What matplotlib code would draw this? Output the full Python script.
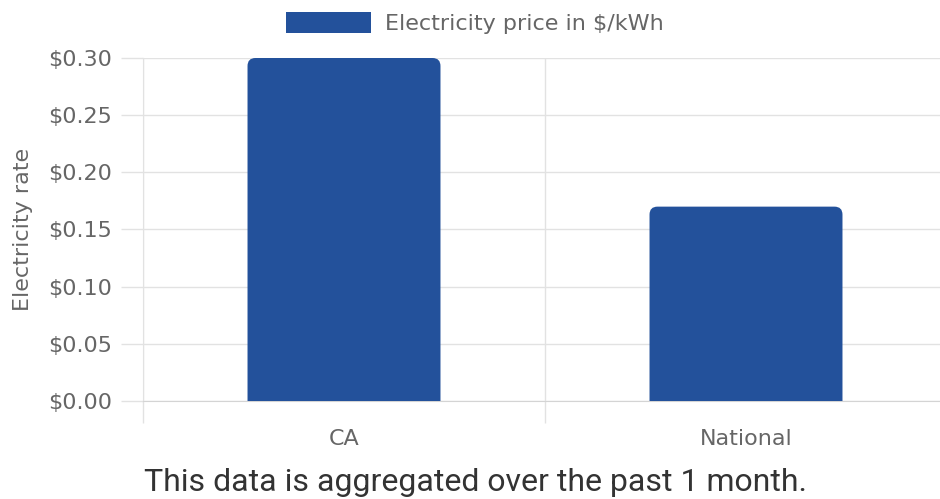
import matplotlib
matplotlib.use("Agg")
import matplotlib.pyplot as plt
from matplotlib.patches import FancyBboxPatch, Patch
from matplotlib.ticker import FuncFormatter, FixedLocator


categories = ["CA", "National"]
prices = [0.30, 0.17]
yticks = [0.00, 0.05, 0.10, 0.15, 0.20, 0.25, 0.30]
series_label = "Electricity price in $/kWh"
caption = "This data is aggregated over the past 1 month."

COL_BAR = "#23519b"
COL_GRID = "#e2e2e2"
COL_TEXT = "#666666"
FS = 16

plt.rcParams["font.family"] = ["DejaVu Sans"]


def rounded_bars(ax, bars, radius_px=8):
    fig = ax.figure
    fig.canvas.draw()
    bbox = ax.get_window_extent()
    x0, x1 = ax.get_xlim()
    y0, y1 = ax.get_ylim()
    px_per_x = bbox.width / (x1 - x0)
    px_per_y = bbox.height / (y1 - y0)
    aspect = px_per_x / px_per_y
    r = radius_px / px_per_x
    ext = 0.03
    for rect in bars:
        rect.set_visible(False)
        x, y = rect.get_x(), rect.get_y()
        w, h = rect.get_width(), rect.get_height()
        patch = FancyBboxPatch(
            (x, y - ext), w, h + ext,
            boxstyle=f"round,pad=0,rounding_size={r}",
            mutation_aspect=aspect,
            facecolor=COL_BAR,
            edgecolor="none",
            zorder=3,
        )
        ax.add_patch(patch)


def main():
    fig = plt.figure(figsize=(9.40, 4.99), dpi=100)
    ax = fig.add_axes([143 / 940, 98 / 499, 804 / 940, 343 / 499])

    xpos = list(range(len(categories)))
    bars = ax.bar(xpos, prices, width=0.48, color=COL_BAR, zorder=3)

    ax.set_xlim(-0.5, len(categories) - 0.5)
    ax.set_ylim(0, 0.30)

    ax.set_xticks(xpos)
    ax.set_xticklabels(categories)
    ax.xaxis.set_minor_locator(FixedLocator([-0.5, 0.5, 1.5]))
    ax.tick_params(axis="x", which="major", length=0, pad=20,
                   labelsize=FS, labelcolor=COL_TEXT)
    ax.tick_params(axis="x", which="minor", length=16, width=1,
                   color=COL_GRID)

    ax.set_yticks(yticks)
    ax.yaxis.set_major_formatter(FuncFormatter(lambda v, _: f"${v:.2f}"))
    ax.tick_params(axis="y", length=16, width=1, color=COL_GRID, pad=6,
                   labelsize=FS, labelcolor=COL_TEXT)

    ax.grid(True, axis="y", color=COL_GRID, lw=1, zorder=0)
    ax.grid(True, axis="x", which="minor", color=COL_GRID, lw=1, zorder=0)

    for side in ["top", "right"]:
        ax.spines[side].set_visible(False)
    ax.spines["left"].set_color(COL_GRID)
    ax.spines["bottom"].set_color("#d4d4d4")

    ax.set_ylabel("Electricity rate", fontsize=FS, color=COL_TEXT, labelpad=11)

    handle = Patch(facecolor=COL_BAR, edgecolor="none")
    fig.legend([handle], [series_label], loc="center",
               bbox_to_anchor=(475 / 940, 1 - 23 / 499), frameon=False,
               fontsize=FS, labelcolor=COL_TEXT, handlelength=3.8,
               handleheight=1.05, handletextpad=0.65)

    fig.text(476 / 940, 1 - 491 / 499, caption, ha="center", va="baseline",
             fontsize=23, color="#333333", family=["Roboto", "DejaVu Sans"])

    rounded_bars(ax, bars)

    fig.savefig("out.png", dpi=100)


if __name__ == "__main__":
    main()
